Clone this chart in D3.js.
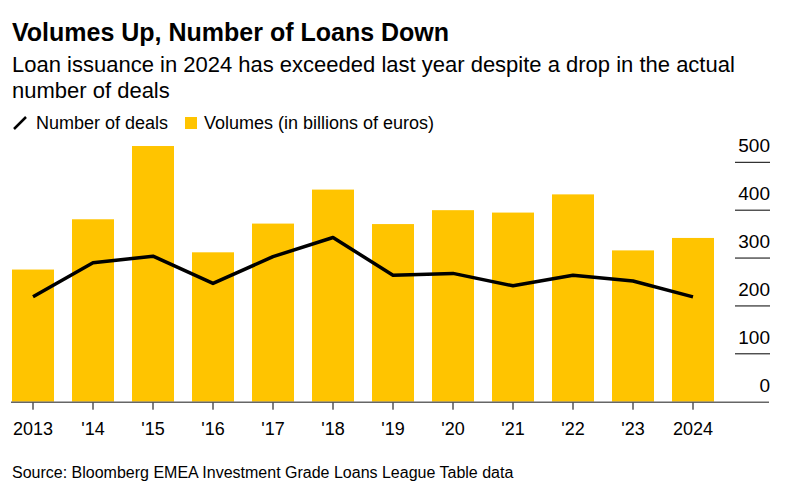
<!DOCTYPE html>
<html><head><meta charset="utf-8">
<script src="https://cdn.jsdelivr.net/npm/d3@7"></script>
<style>
html,body{margin:0;padding:0;background:#fff;}
svg{display:block;font-family:"Liberation Sans",Arial,sans-serif;}
</style></head>
<body>
<svg id="chart" width="788" height="491"></svg>
<script>
const years = ["2013","'14","'15","'16","'17","'18","'19","'20","'21","'22","'23","2024"];
const volumes = [276, 381, 534, 312, 372, 443, 371, 400, 395, 433, 316, 342];
const deals = [219, 290, 304, 247, 303, 343, 264, 268, 242, 264, 252, 219];
const yTicks = [0, 100, 200, 300, 400, 500];

const svg = d3.select("#chart");

svg.append("text").attr("x", 12).attr("y", 41)
  .attr("font-size", 25).attr("font-weight", "bold").attr("fill", "#000")
  .text("Volumes Up, Number of Loans Down");
svg.append("text").attr("x", 12).attr("y", 72)
  .attr("font-size", 22).attr("fill", "#000")
  .text("Loan issuance in 2024 has exceeded last year despite a drop in the actual");
svg.append("text").attr("x", 12).attr("y", 98)
  .attr("font-size", 22).attr("fill", "#000")
  .text("number of deals");

// legend
const lg = svg.append("g");
lg.append("line").attr("x1", 14).attr("y1", 129).attr("x2", 26).attr("y2", 117)
  .attr("stroke", "#000").attr("stroke-width", 2.5);
lg.append("text").attr("x", 36).attr("y", 129).attr("font-size", 18).text("Number of deals");
lg.append("rect").attr("x", 185).attr("y", 117).attr("width", 12).attr("height", 12).attr("fill", "#FFC400");
lg.append("text").attr("x", 204).attr("y", 129).attr("font-size", 18).text("Volumes (in billions of euros)");

// scales
const x = d3.scaleBand().domain(years).range([3, 723]).paddingInner(0.3).paddingOuter(0.15);
const y = d3.scaleLinear().domain([0, 500]).range([401.7, 162.3]);

// right axis tick lines & labels
const ya = svg.append("g");
ya.selectAll("line").data(yTicks.filter(d => d > 0)).join("line")
  .attr("x1", 735).attr("x2", 770).attr("y1", d => y(d)).attr("y2", d => y(d))
  .attr("stroke", "#000").attr("stroke-width", 1);
ya.selectAll("text").data(yTicks).join("text")
  .attr("x", 770).attr("y", d => y(d) - 10).attr("text-anchor", "end")
  .attr("font-size", 19).attr("fill", "#000").text(d => d);

// bars
svg.append("g").selectAll("rect").data(years).join("rect")
  .attr("x", (d) => x(d)).attr("width", x.bandwidth())
  .attr("y", (d, i) => y(volumes[i])).attr("height", (d, i) => y(0) - y(volumes[i]))
  .attr("fill", "#FFC400");

// line
const line = d3.line().x((d, i) => x(years[i]) + x.bandwidth() / 2).y(d => y(d));
svg.append("path").datum(deals).attr("d", line)
  .attr("fill", "none").attr("stroke", "#000").attr("stroke-width", 3.5)
  .attr("stroke-linejoin", "round");

// bottom axis
const xa = svg.append("g").attr("transform", `translate(0,${y(0)})`);
xa.append("line").attr("x1", 11).attr("x2", 769).attr("y1", 0.5).attr("y2", 0.5)
  .attr("stroke", "#666").attr("stroke-width", 1.5);
xa.selectAll(".tk").data(years).join("line").attr("class", "tk")
  .attr("x1", d => x(d) + x.bandwidth() / 2).attr("x2", d => x(d) + x.bandwidth() / 2)
  .attr("y1", 1).attr("y2", 8).attr("stroke", "#000").attr("stroke-width", 1);
xa.selectAll("text").data(years).join("text")
  .attr("x", d => x(d) + x.bandwidth() / 2).attr("y", 33).attr("text-anchor", "middle")
  .attr("font-size", 18).attr("fill", "#000").text(d => d);

svg.append("text").attr("x", 12).attr("y", 478).attr("font-size", 16).attr("fill", "#000")
  .text("Source: Bloomberg EMEA Investment Grade Loans League Table data");
</script>
</body></html>
